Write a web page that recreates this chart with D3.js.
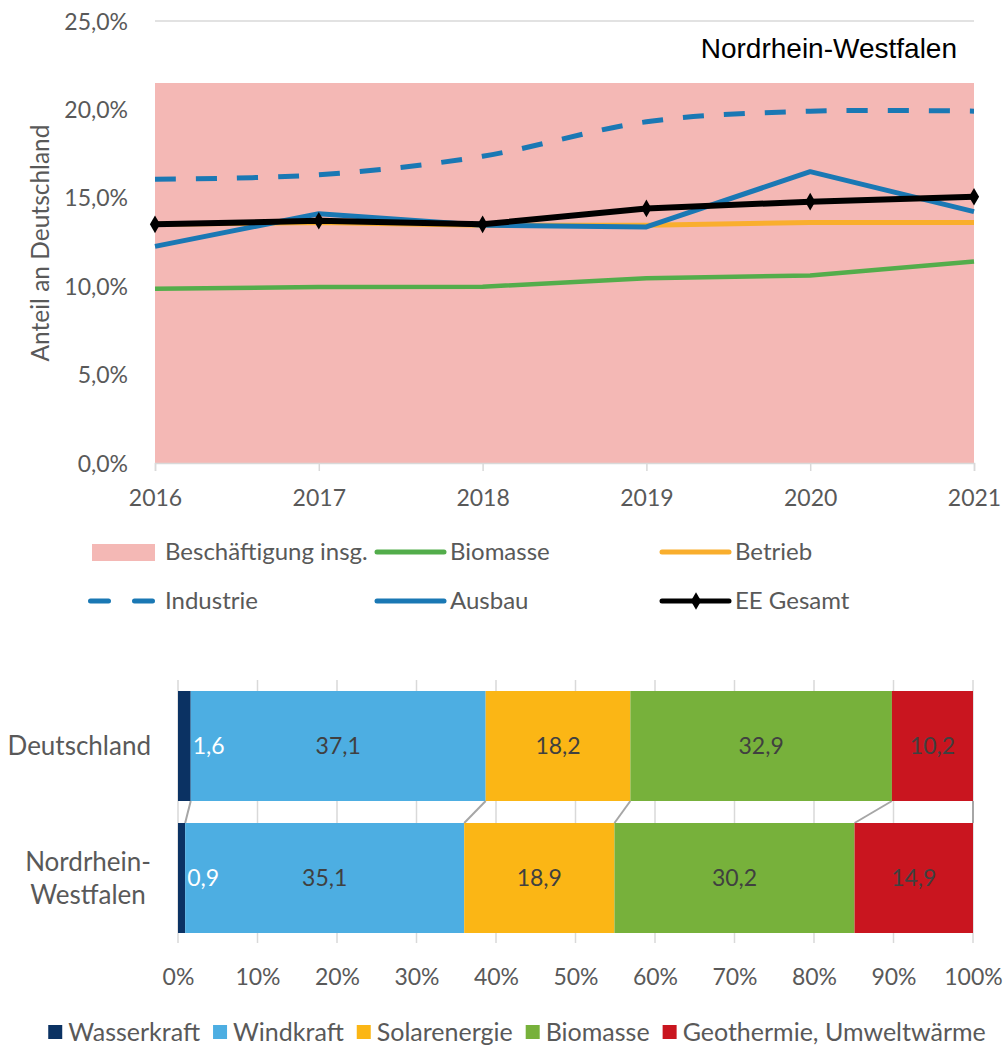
<!DOCTYPE html>
<html>
<head>
<meta charset="utf-8">
<script src="https://cdn.jsdelivr.net/npm/d3@7"></script>
<style>
  body { margin: 0; background: #fff; }
  svg { display: block; font-family: Lato, "Open Sans", sans-serif; }
</style>
</head>
<body>
<svg id="chart" width="1003" height="1045"></svg>
<script>
// --- top chart data (share of Germany, %)
const years = [2016, 2017, 2018, 2019, 2020, 2021];
const beschaeftigung = [21.5, 21.5, 21.5, 21.5, 21.5, 21.5];
const biomasse = [9.85, 9.95, 9.97, 10.45, 10.6, 11.4];
const betrieb = [13.5, 13.6, 13.45, 13.45, 13.6, 13.6];
const industrie = [16.05, 16.3, 17.35, 19.3, 19.9, 19.9];
const ausbau = [12.25, 14.1, 13.45, 13.35, 16.48, 14.22];
const eeGesamt = [13.5, 13.7, 13.5, 14.4, 14.78, 15.06];
const yTicks = [0, 5, 10, 15, 20, 25];

// --- bottom chart data (%)
const regions = ["Deutschland", "Nordrhein-Westfalen"];
const regionLines = [["Deutschland"], ["Nordrhein-", "Westfalen"]];
const sources = ["Wasserkraft", "Windkraft", "Solarenergie", "Biomasse", "Geothermie, Umweltwärme"];
const deValues = [1.6, 37.1, 18.2, 32.9, 10.2];
const nrwValues = [0.9, 35.1, 18.9, 30.2, 14.9];
const pctTicks = [0, 10, 20, 30, 40, 50, 60, 70, 80, 90, 100];

const sourceColors = ["#0b3263", "#4daee2", "#fbb615", "#77b13b", "#c9151f"];
const axisGray = "#595959";
const gridGray = "#d9d9d9";
const fmt = d3.format(".1f");
const comma = v => fmt(v).replace(".", ",");

const svg = d3.select("#chart");

// ================= top line chart =================
const x = d3.scalePoint().domain(years).range([155, 974]);
const y = d3.scaleLinear().domain([0, 25]).range([463, 21]);

const lineChart = svg.append("g");

// 25% gridline (others are hidden under the area)
lineChart.append("g")
  .selectAll("line")
  .data(yTicks.slice(1))
  .join("line")
  .attr("x1", 155).attr("x2", 974)
  .attr("y1", d => y(d)).attr("y2", d => y(d))
  .attr("stroke", gridGray).attr("stroke-width", 1.5);

// area Beschäftigung insg.
lineChart.append("path")
  .datum(years.map((yr, i) => [yr, beschaeftigung[i]]))
  .attr("fill", "#f4b8b5")
  .attr("d", d3.area().x(d => x(d[0])).y0(y(0)).y1(d => y(d[1])));

// y axis labels
const yAxis = lineChart.append("g")
  .attr("transform", "translate(128,0)")
  .call(d3.axisLeft(y).tickValues(yTicks).tickSize(0).tickPadding(0).tickFormat(d => comma(d) + "%"));
yAxis.select(".domain").remove();
yAxis.selectAll("text").attr("fill", axisGray).style("font-size", "23px").style("font-family", "Lato").attr("dy", "0.35em");

// x axis
const xAxis = lineChart.append("g")
  .attr("transform", "translate(0,463)")
  .call(d3.axisBottom(x).tickSizeOuter(0).tickSize(8).tickPadding(19));
xAxis.select(".domain").attr("stroke", gridGray).attr("stroke-width", 1.5);
xAxis.selectAll(".tick line").attr("stroke", gridGray).attr("stroke-width", 1.5);
xAxis.selectAll("text").attr("fill", axisGray).style("font-size", "23px").style("font-family", "Lato");

// y title
lineChart.append("text")
  .attr("transform", "translate(49,243) rotate(-90)")
  .attr("text-anchor", "middle")
  .attr("fill", axisGray)
  .style("font-size", "24.5px")
  .text("Anteil an Deutschland");

// chart title
lineChart.append("text")
  .attr("x", 957).attr("y", 58)
  .attr("text-anchor", "end")
  .style("font-family", "'Liberation Sans', Arial, sans-serif")
  .style("font-size", "28px")
  .attr("fill", "#000")
  .text("Nordrhein-Westfalen");

const line = d3.line().x((d, i) => x(years[i])).y(d => y(d));
const smooth = d3.line().x((d, i) => x(years[i])).y(d => y(d)).curve(d3.curveCardinal.tension(0));

const series = [
  { values: biomasse, color: "#53ad4b", width: 4.5, gen: line },
  { values: betrieb, color: "#f9ae2d", width: 5, gen: line },
  { values: industrie, color: "#1a78b4", width: 5, gen: smooth, dash: "21,20" },
  { values: ausbau, color: "#1a78b4", width: 5, gen: line },
  { values: eeGesamt, color: "#000", width: 6, gen: line }
];

lineChart.selectAll("path.series")
  .data(series)
  .join("path")
  .attr("class", "series")
  .attr("fill", "none")
  .attr("stroke", d => d.color)
  .attr("stroke-width", d => d.width)
  .attr("stroke-dasharray", d => d.dash || null)
  .attr("stroke-linejoin", "round")
  .attr("d", d => d.gen(d.values));

const diamond = d3.symbol().type(d3.symbolDiamond).size(90);
lineChart.selectAll("path.marker")
  .data(eeGesamt)
  .join("path")
  .attr("class", "marker")
  .attr("transform", (d, i) => `translate(${x(years[i])},${y(d)})`)
  .attr("d", diamond)
  .attr("fill", "#000");

// top legend
const legendItems = [
  { label: "Beschäftigung insg.", type: "rect", color: "#f4b8b5", col: 0, row: 0 },
  { label: "Biomasse", type: "line", color: "#53ad4b", col: 1, row: 0 },
  { label: "Betrieb", type: "line", color: "#f9ae2d", col: 2, row: 0 },
  { label: "Industrie", type: "dash", color: "#1a78b4", col: 0, row: 1 },
  { label: "Ausbau", type: "line", color: "#1a78b4", col: 1, row: 1 },
  { label: "EE Gesamt", type: "marker", color: "#000", col: 2, row: 1 }
];
const legCols = [92, 377, 662];
const legRows = [552, 601];
const leg = lineChart.append("g");
legendItems.forEach(it => {
  const lx = legCols[it.col], ly = legRows[it.row];
  const g = leg.append("g").attr("transform", `translate(${lx},${ly})`);
  if (it.type === "rect") {
    g.append("rect").attr("x", 0).attr("y", -8).attr("width", 63).attr("height", 17).attr("fill", it.color);
  } else if (it.type === "dash") {
    g.append("line").attr("x1", -1.5).attr("x2", 60.5).attr("y1", 0).attr("y2", 0)
      .attr("stroke", it.color).attr("stroke-width", 5)
      .attr("stroke-linecap", "round")
      .attr("stroke-dasharray", "18,26");
  } else {
    g.append("line").attr("x1", 0).attr("x2", 67).attr("y1", 0).attr("y2", 0)
      .attr("stroke", it.color).attr("stroke-width", 5)
      .attr("stroke-linecap", "round");
    if (it.type === "marker") {
      g.append("path").attr("transform", "translate(34,0)").attr("d", diamond).attr("fill", it.color);
    }
  }
  g.append("text")
    .attr("x", 73).attr("y", 0).attr("dy", "0.35em")
    .attr("fill", axisGray)
    .style("font-size", "24px")
    .text(it.label);
});

// ================= bottom stacked bar chart =================
const bx = d3.scaleLinear().domain([0, 100]).range([178, 973]);
const by = d3.scaleBand().domain(regions).range([691, 933]).paddingInner(22 / 132).paddingOuter(0);

const barChart = svg.append("g");

barChart.append("g")
  .selectAll("line")
  .data(pctTicks)
  .join("line")
  .attr("x1", d => bx(d)).attr("x2", d => bx(d))
  .attr("y1", 680).attr("y2", 943)
  .attr("stroke", gridGray).attr("stroke-width", 1.5);

const rows = [deValues, nrwValues].map((vals, r) => {
  let acc = 0;
  return vals.map((v, i) => {
    const s = { region: regions[r], source: i, v: v, x0: acc, x1: acc + v };
    acc += v;
    return s;
  });
});

const barH = by.bandwidth();

// series connector lines
const connectors = sources.map((s, i) => ({ a: rows[0][i].x1, b: rows[1][i].x1 }));
barChart.append("g")
  .selectAll("line")
  .data(connectors)
  .join("line")
  .attr("x1", d => bx(d.a)).attr("y1", by(regions[0]) + barH)
  .attr("x2", d => bx(d.b)).attr("y2", by(regions[1]))
  .attr("stroke", "#a6a6a6").attr("stroke-width", 2);

rows.forEach(row => {
  barChart.append("g")
    .selectAll("rect")
    .data(row)
    .join("rect")
    .attr("x", d => bx(d.x0))
    .attr("width", d => bx(d.x1) - bx(d.x0))
    .attr("y", d => by(d.region))
    .attr("height", barH)
    .attr("fill", d => sourceColors[d.source]);

  barChart.append("g")
    .selectAll("text")
    .data(row)
    .join("text")
    .attr("x", d => d.source === 0 ? bx(d.x1) + 2 : bx((d.x0 + d.x1) / 2))
    .attr("y", d => by(d.region) + barH / 2)
    .attr("dy", "0.35em")
    .attr("text-anchor", d => d.source === 0 ? "start" : "middle")
    .attr("fill", d => d.source === 0 ? "#fff" : "#404040")
    .style("font-size", "23px")
    .text(d => comma(d.v));
});

// category labels
regions.forEach((r, i) => {
  const lines = regionLines[i];
  const t = barChart.append("text")
    .attr("fill", axisGray)
    .style("font-size", "26px")
    .attr("text-anchor", "middle");
  const cy = by(r) + barH / 2;
  const lh = 33;
  lines.forEach((l, k) => {
    t.append("tspan")
      .attr("y", cy + (k - (lines.length - 1) / 2) * lh)
      .attr("dy", "0.35em")
      .text(l);
  });
  // centre lines under the widest one, right edge at x=151
  let w = 0;
  t.selectAll("tspan").each(function () { w = Math.max(w, this.getComputedTextLength()); });
  t.selectAll("tspan").attr("x", 151 - w / 2);
});

// percent axis labels
const pAxis = barChart.append("g")
  .attr("transform", "translate(0,987)")
  .call(d3.axisBottom(bx).tickValues(pctTicks).tickSize(0).tickPadding(0).tickFormat(d => d + "%"));
pAxis.select(".domain").remove();
pAxis.selectAll("text").attr("fill", axisGray).style("font-size", "23px").style("font-family", "Lato").attr("dy", "-0.1em");

// bottom legend
const bleg = barChart.append("g").attr("transform", "translate(0,1032)");
let cx = 0;
const items = [];
sources.forEach((s, i) => {
  const g = bleg.append("g");
  g.append("rect").attr("x", 0).attr("y", -7).attr("width", 14).attr("height", 14).attr("fill", sourceColors[i]);
  const tx = g.append("text").attr("x", 20).attr("y", 0).attr("dy", "0.35em")
    .attr("fill", axisGray).style("font-size", "25px").text(s);
  const w = 20 + tx.node().getComputedTextLength();
  items.push({ g, pos: cx });
  cx += w + 13;
});
const total = cx - 13;
const start = 517 - total / 2;
items.forEach(it => it.g.attr("transform", `translate(${start + it.pos},0)`));
</script>
</body>
</html>
